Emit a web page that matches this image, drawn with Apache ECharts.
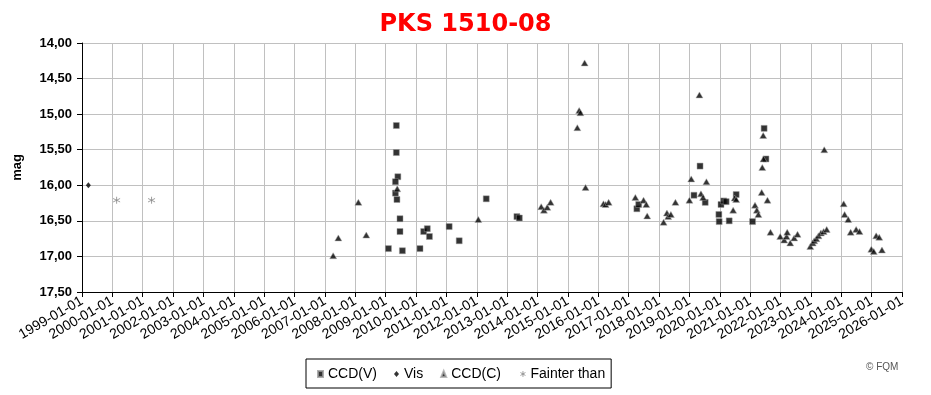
<!DOCTYPE html>
<html>
<head>
<meta charset="utf-8">
<script src="https://cdn.jsdelivr.net/npm/echarts@6/dist/echarts.min.js"></script>
<style>
html,body{margin:0;padding:0;background:#fff;}
#chart{width:931px;height:395px;}
</style>
</head>
<body>
<div id="chart"></div>
<script>
// Decimal years and magnitudes
var yearTicks = [1999, 2026];
var magRange = [14, 17.5];

var ccdV = [
  [2009.09,16.89],[2009.35,15.16],[2009.35,15.54],[2009.40,15.88],[2009.32,15.95],
  [2009.32,16.11],[2009.37,16.20],[2009.47,16.47],[2009.47,16.65],[2009.55,16.92],
  [2010.13,16.89],[2010.25,16.65],[2010.37,16.61],[2010.44,16.72],[2011.09,16.58],
  [2011.42,16.78],[2012.31,16.19],[2013.32,16.44],[2013.40,16.46],
  [2017.27,16.33],[2017.33,16.27],[2019.15,16.14],[2019.35,15.73],[2019.52,16.24],
  [2019.97,16.41],[2019.98,16.51],[2020.04,16.27],[2020.13,16.22],[2020.21,16.23],
  [2020.31,16.50],[2020.54,16.13],[2021.08,16.51],[2021.46,15.20],[2021.52,15.63]
];
var vis = [[1999.21,16.00]];
var ccdC = [
  [2007.27,16.99],[2007.44,16.74],[2008.10,16.24],[2008.36,16.70],[2009.38,16.05],[2012.05,16.48],
  [2014.12,16.30],[2014.21,16.35],[2014.32,16.31],[2014.43,16.24],
  [2015.31,15.19],[2015.37,14.95],[2015.41,14.98],[2015.55,14.28],[2015.58,16.03],
  [2016.17,16.26],[2016.24,16.27],[2016.34,16.24],
  [2017.22,16.17],[2017.49,16.21],[2017.58,16.27],[2017.61,16.43],
  [2018.15,16.52],[2018.26,16.39],[2018.30,16.44],[2018.39,16.41],[2018.54,16.24],
  [2019.00,16.21],[2019.06,15.91],[2019.33,14.73],[2019.38,16.12],[2019.45,16.17],[2019.56,15.95],
  [2020.44,16.35],[2020.49,16.18],[2020.54,16.20],
  [2021.16,16.28],[2021.22,16.35],[2021.27,16.41],[2021.38,16.10],[2021.40,15.75],
  [2021.43,15.30],[2021.44,15.63],[2021.57,16.21],[2021.67,16.66],
  [2021.99,16.72],[2022.12,16.77],[2022.20,16.72],[2022.22,16.66],[2022.32,16.81],[2022.45,16.74],[2022.56,16.69],
  [2022.98,16.86],[2023.06,16.81],[2023.11,16.78],[2023.18,16.75],[2023.25,16.71],
  [2023.33,16.67],[2023.42,16.65],[2023.52,16.62],[2023.44,15.50],
  [2024.08,16.26],[2024.11,16.41],[2024.23,16.48],[2024.31,16.66],[2024.49,16.62],[2024.60,16.65],
  [2024.99,16.90],[2025.07,16.93],[2025.15,16.71],[2025.25,16.73],[2025.34,16.91]
];
var fainter = [[2000.14,16.21],[2001.29,16.21]];

var asterisk = 'path://M5,0L5,10M0.7,2.5L9.3,7.5M0.7,7.5L9.3,2.5';

var chart = echarts.init(document.getElementById('chart'), null, {renderer:'canvas'});
var font = '"Liberation Sans", Arial, sans-serif';
chart.setOption({
  animation: false,
  backgroundColor: '#fff',
  title: {
    text: 'PKS 1510-08',
    left: 'center',
    top: 8,
    textStyle: {color:'#ff0000', fontSize:24, fontWeight:'bold', fontFamily:'"DejaVu Sans", Verdana, sans-serif'}
  },
  grid: {left:82, right:29, top:43, bottom:103, show:false},
  legend: {
    data: [
      {name:'CCD(V)', icon:'rect'},
      {name:'Vis', icon:'diamond'},
      {name:'CCD(C)', icon:'triangle'},
      {name:'Fainter than', icon: asterisk, itemStyle:{color:'none', borderColor:'#888', borderWidth:1}}
    ],
    left: 306,
    top: 359,
    orient: 'horizontal',
    borderColor: '#000',
    borderWidth: 1,
    borderRadius: 0,
    padding: [8, 6, 7, 11],
    itemGap: 17,
    itemWidth: 5,
    itemHeight: 6,
    textStyle: {fontFamily: font, fontSize: 14, color:'#000'}
  },
  graphic: [{
    type:'text', left: 866, top: 362,
    style:{text:'© FQM', fill:'#555', font:'10px "Liberation Sans", Arial, sans-serif'}
  }],
  xAxis: {
    type: 'value',
    min: yearTicks[0], max: yearTicks[1], interval: 1,
    axisLine: {show:true, onZero:false, lineStyle:{color:'#000', width:1}},
    axisTick: {show:true, length:5, lineStyle:{color:'#000'}},
    axisLabel: {
      rotate: 30, margin: 8, color:'#000', fontSize: 14, fontFamily: font,
      formatter: function(v){ return v + '-01-01'; }
    },
    splitLine: {show:true, lineStyle:{color:'#c0c0c0', width:1}}
  },
  yAxis: {
    type: 'value',
    inverse: true,
    min: magRange[0], max: magRange[1], interval: 0.5,
    name: 'mag', nameLocation: 'middle', nameGap: 58, nameRotate: 90,
    nameTextStyle: {fontFamily: font, fontSize: 13, fontWeight:'bold', color:'#000'},
    axisLine: {show:true, lineStyle:{color:'#000', width:1}},
    axisTick: {show:true, length:5, lineStyle:{color:'#000'}},
    axisLabel: {
      color:'#000', fontSize: 13, fontWeight:'bold', fontFamily: font, margin: 10,
      formatter: function(v){ return v.toFixed(2).replace('.', ','); }
    },
    splitLine: {show:true, lineStyle:{color:'#c0c0c0', width:1}}
  },
  series: [
    {name:'CCD(V)', type:'scatter', data: ccdV, symbol:'rect', symbolSize:6,
     itemStyle:{color:'#000', borderColor:'#999', borderWidth:0.6}},
    {name:'Vis', type:'scatter', data: vis, symbol:'diamond', symbolSize:[5,6],
     itemStyle:{color:'#000'}},
    {name:'CCD(C)', type:'scatter', data: ccdC, symbol:'triangle', symbolSize:[7,6],
     itemStyle:{color:'#000', borderColor:'#aaa', borderWidth:0.6}},
    {name:'Fainter than', type:'scatter', data: fainter, symbol: asterisk, symbolSize:7,
     itemStyle:{color:'none', borderColor:'#888', borderWidth:1}}
  ]
});
</script>
</body>
</html>
